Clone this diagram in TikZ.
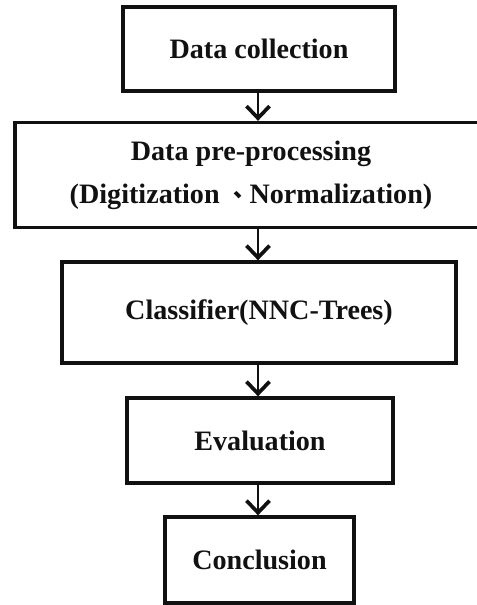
\documentclass[tikz,border=0pt]{standalone}
\usepackage{fontspec}
\setmainfont{Liberation Serif}
\newfontfamily\cjk{Noto Sans CJK TC}
\usepackage{tikz}
\usetikzlibrary{arrows.meta,positioning,calc}
\definecolor{inkblack}{HTML}{111111}
\tikzset{
  stage/.style={draw=inkblack, line width=1.9pt, align=center, inner sep=4pt,
    font=\fontsize{16}{24.5}\selectfont\bfseries, text=inkblack},
  flow/.style={-{Straight Barb[length=2.4mm,width=4.6mm,line width=2.1pt]}, line width=1.4pt, draw=inkblack}
}

\begin{document}
\begin{tikzpicture}[x=1cm,y=1cm]
  \useasboundingbox (0,0) rectangle (9.54,-12.1);
  \clip (0,0) rectangle (9.54,-12.1);

  % stages, top to bottom
  \node[stage, minimum width=5.44cm, minimum height=1.68cm] (collect) at (5.18,-0.98) {Data collection};
  \node[stage, minimum width=9.44cm, minimum height=2.1cm] (prep) at (5.02,-3.5)
    {Data pre-processing\\(Digitization {\cjk\fontsize{13}{13}\selectfont 、}Normalization)};
  \node[stage, minimum width=7.88cm, minimum height=2.02cm] (classify) at (5.18,-6.25) {Classifier(NNC-Trees)};
  \node[stage, minimum width=5.32cm, minimum height=1.7cm] (eval) at (5.2,-8.81) {Evaluation};
  \node[stage, minimum width=3.78cm, minimum height=1.72cm] (concl) at (5.19,-11.2) {Conclusion};

  % arrows between stages
  \coordinate (axis) at (5.16,0);
  \draw[flow] (axis |- collect.south) -- (axis |- prep.north);
  \draw[flow] (axis |- prep.south) -- (axis |- classify.north);
  \draw[flow] (axis |- classify.south) -- (axis |- eval.north);
  \draw[flow] (axis |- eval.south) -- (axis |- concl.north);
\end{tikzpicture}
\end{document}
